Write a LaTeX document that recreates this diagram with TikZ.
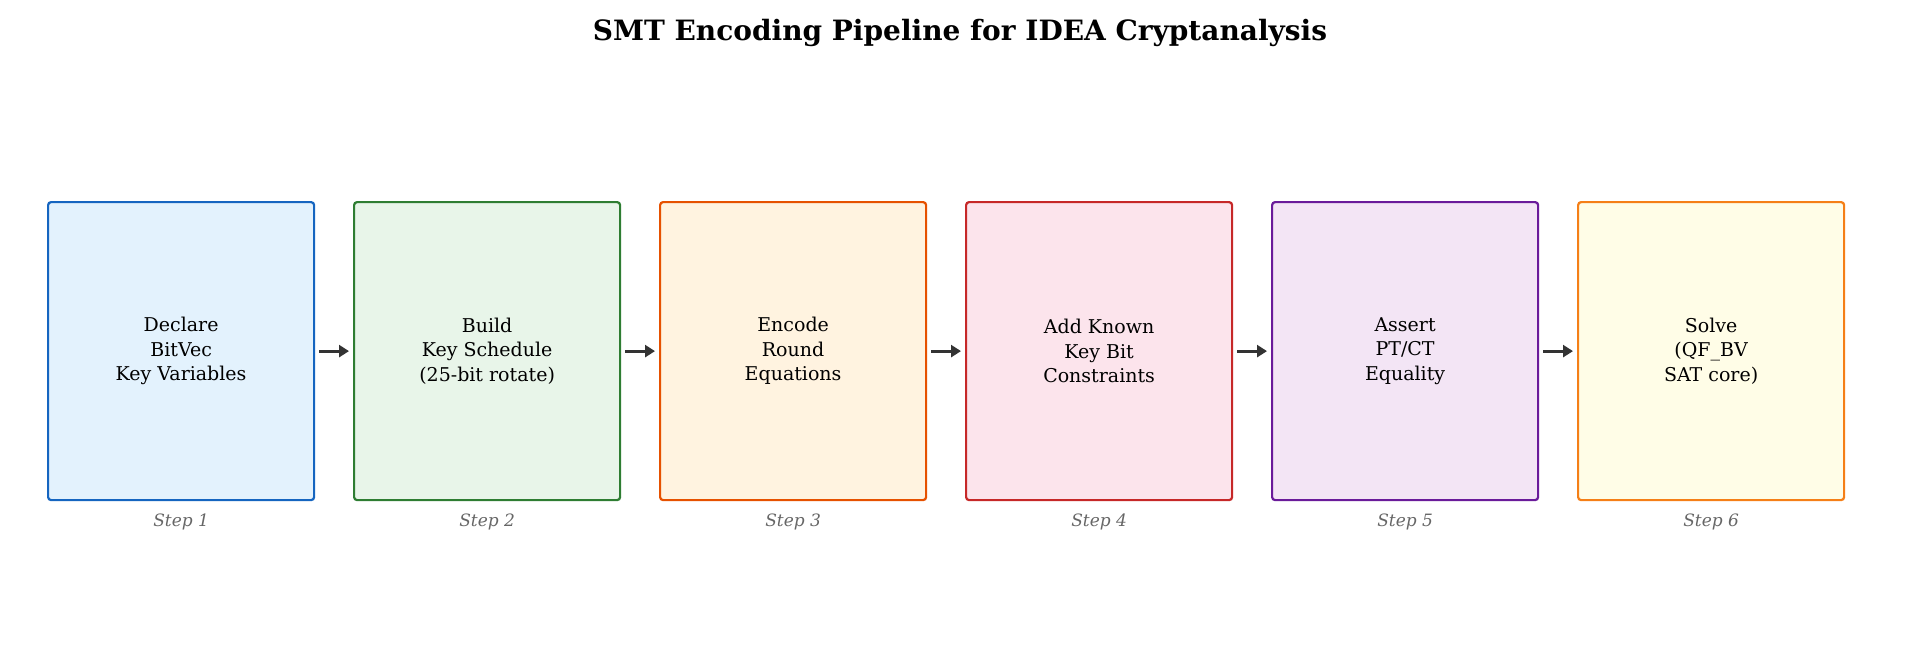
\documentclass[tikz,border=0pt]{standalone}
\usepackage{fontspec}
\setmainfont{DejaVu Serif}
\usetikzlibrary{arrows.meta}
\begin{document}
\begin{tikzpicture}[x=0.5pt,y=-0.5pt,
 box/.style={draw=#1,line width=1.1pt,rounded corners=1.5pt,minimum width=133pt,minimum height=149pt,anchor=north west,inner sep=0pt},
 lbl/.style={align=center,font=\fontsize{9.5}{12.2}\selectfont,text=black},
 steplbl/.style={font=\fontsize{8.5}{10}\selectfont\itshape,text=black!60},
 arr/.style={-{Triangle[length=5pt,width=6pt]},line width=1.5pt,draw=black!80}]
\useasboundingbox (0,0) rectangle (1920,661);
\node[font=\fontsize{14}{16}\selectfont\bfseries] (title) at (960,33) {SMT Encoding Pipeline for IDEA Cryptanalysis};
\definecolor{c1}{HTML}{1565C0}\definecolor{f1}{HTML}{E3F2FD}
\definecolor{c2}{HTML}{2E7D32}\definecolor{f2}{HTML}{E8F5E9}
\definecolor{c3}{HTML}{E65100}\definecolor{f3}{HTML}{FFF3E0}
\definecolor{c4}{HTML}{C62828}\definecolor{f4}{HTML}{FCE4EC}
\definecolor{c5}{HTML}{6A1B9A}\definecolor{f5}{HTML}{F3E5F5}
\definecolor{c6}{HTML}{F57F17}\definecolor{f6}{HTML}{FFFDE7}
\node[box=c1,fill=f1] (b1) at (47,201) {};
\node[box=c2,fill=f2] (b2) at (353,201) {};
\node[box=c3,fill=f3] (b3) at (659,201) {};
\node[box=c4,fill=f4] (b4) at (965,201) {};
\node[box=c5,fill=f5] (b5) at (1271,201) {};
\node[box=c6,fill=f6] (b6) at (1577,201) {};
\node[lbl] (t1) at (b1.center) {Declare\\BitVec\\Key Variables};
\node[lbl] (t2) at (b2.center) {Build\\Key Schedule\\(25-bit rotate)};
\node[lbl] (t3) at (b3.center) {Encode\\Round\\Equations};
\node[lbl] (t4) at (b4.center) {Add Known\\Key Bit\\Constraints};
\node[lbl] (t5) at (b5.center) {Assert\\PT/CT\\Equality};
\node[lbl] (t6) at (b6.center) {Solve\\(QF\_BV\\SAT core)};
\foreach \i in {1,...,6}{\node[steplbl,below=3pt] (s\i) at (b\i.south) {Step \i};}
\foreach \i/\j in {1/2,2/3,3/4,4/5,5/6}{\draw[arr] ([xshift=2pt]b\i.east) -- ([xshift=-2pt]b\j.west);}
\end{tikzpicture}
\end{document}
